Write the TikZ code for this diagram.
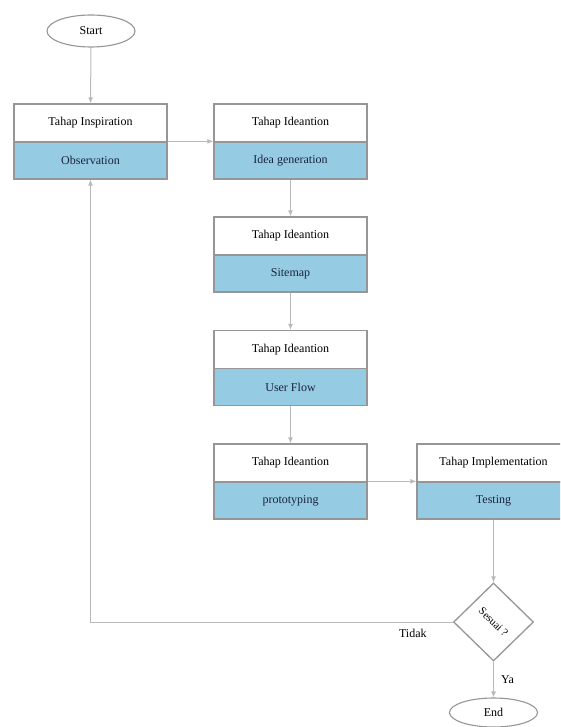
\documentclass[tikz,border=0pt]{standalone}
\usepackage{fontspec}
\setmainfont{Liberation Serif}
\usetikzlibrary{shapes.geometric,arrows.meta}
\definecolor{boxline}{RGB}{150,150,150}
\definecolor{conline}{RGB}{185,185,185}
\definecolor{bandblue}{RGB}{150,203,228}
\definecolor{bandtext}{RGB}{25,35,60}
\tikzset{
  every node/.style={font=\fontsize{12}{14}\selectfont},
  toppart/.style={draw=boxline, line width=1.3pt, fill=white, minimum width=153pt, minimum height=38pt, inner sep=0pt, text=black},
  botpart/.style={draw=boxline, line width=1.3pt, fill=bandblue, minimum width=153pt, minimum height=37pt, inner sep=0pt, text=bandtext},
  terminal/.style={ellipse, draw=boxline, line width=1.1pt, minimum width=88pt, minimum height=32pt, inner sep=0pt},
  decision/.style={diamond, draw=boxline, line width=1.3pt, minimum width=80pt, minimum height=78pt, inner sep=0pt, font=\fontsize{11}{13}\selectfont},
  arr/.style={draw=conline, line width=1pt, -{Latex[length=6pt,width=5pt]}},
  lbl/.style={inner sep=0pt, text=black}
}
\begin{document}
\begin{tikzpicture}[x=1pt,y=-1pt]
\clip (0,0) rectangle (560,727);
\fill[white] (0,0) rectangle (560,727);
\node[terminal] (start) at (91,31) {Start};
% column 1
\node[toppart] (t1) at (90.5,123) {Tahap Inspiration};
\node[botpart] (b1) at (90.5,160.5) {Observation};
% column 2
\node[toppart] (t2) at (290.5,123) {Tahap Ideantion};
\node[botpart] (b2) at (290.5,160.5) {Idea generation};
\node[toppart] (t3) at (290.5,236) {Tahap Ideantion};
\node[botpart] (b3) at (290.5,273.5) {Sitemap};
\node[toppart] (t4) at (290.5,349.5) {Tahap Ideantion};
\node[botpart] (b4) at (290.5,387) {User Flow};
\node[toppart] (t5) at (290.5,463) {Tahap Ideantion};
\node[botpart] (b5) at (290.5,500.5) {prototyping};
% column 3
\node[toppart] (t6) at (493.5,463) {Tahap Implementation};
\node[botpart] (b6) at (493.5,500.5) {Testing};
\node[decision] (d) at (493.5,622) {\rotatebox{-45}{Sesuai ?}};
\node[terminal, minimum height=29pt] (end) at (493.5,712.5) {End};
% connectors
\draw[arr] (start) -- (t1);
\draw[arr] (b1.north east) -- (b2.north west);
\draw[arr] (b2) -- (t3);
\draw[arr] (b3) -- (t4);
\draw[arr] (b4) -- (t5);
\draw[arr] (b5.north east) -- (b6.north west);
\draw[arr] (b6) -- (d);
\draw[arr] (d) -- node[lbl, pos=0.5, xshift=14pt] {Ya} (end);
\draw[arr] (d.west) -| node[lbl, pos=0, xshift=-40pt, yshift=-11pt] {Tidak} (b1.south);
\end{tikzpicture}
\end{document}
